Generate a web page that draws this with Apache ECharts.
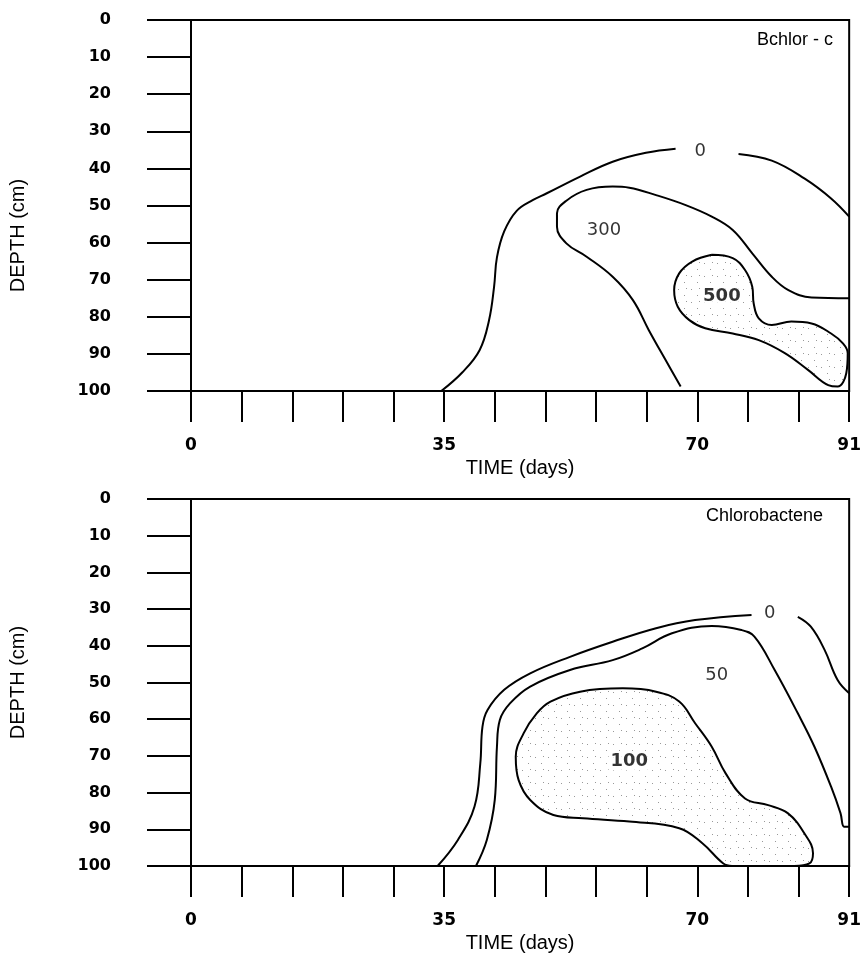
<!DOCTYPE html>
<html>
<head>
<meta charset="utf-8">
<script src="https://cdn.jsdelivr.net/npm/echarts@6/dist/echarts.min.js"></script>
<style>
html,body{margin:0;padding:0;background:#fff;}
#chart{width:864px;height:958px;}
</style>
</head>
<body>
<div id="chart"></div>
<script>
// ---- data (time in days, depth in cm) ----
const timeLabels = [0, 35, 70, 91];
const panelTitles = ['Bchlor - c', 'Chlorobactene'];

// Bchlor-c contours
const bchlorZeroA = [[34.6,100],[37.5,95],[39.9,89],[41.2,81],[41.9,72],[42.3,64],[43.3,57],[45.0,51.5],[47.3,48.5],[49.2,46.7],[53.8,42.2],[58.3,38.2],[62.9,35.8],[67.0,34.7]];
const bchlorZeroB = [[75.7,36.1],[80.3,37.9],[84.8,42.7],[88.5,48.1],[91,53]];
const bchlor300 = [[91,75.0],[85.8,74.8],[82.6,72.8],[80.3,69.2],[77.6,62.9],[74.9,56.6],[72.0,53.0],[68.4,49.9],[64.3,47.2],[60.6,45.2],[58.3,44.9],[54.7,45.8],[51.9,48.7],[50.6,52.1],[50.6,55.7],[51.9,60.2],[54.7,63.8],[58.3,69.2],[61.1,75.5],[63.3,83.6],[65.6,91.6],[67.7,98.8]];
const bchlor500 = [[72.0,63.3],[74.9,64.2],[76.6,67.4],[77.6,71.9],[77.8,76.4],[78.5,80.4],[80.3,82.2],[83.0,81.3],[85.8,81.8],[88.5,84.5],[90.1,87.1],[90.8,89.8],[90.6,95.2],[89.4,98.8],[88.1,98.4],[85.3,94.3],[82.1,89.8],[78.5,86.3],[74.9,84.5],[71.1,83.1],[68.9,80.9],[67.3,77.3],[66.8,72.8],[67.5,68.3],[69.3,65.1],[72.0,63.3]];
const bchlorLabels = [['0',70.4,35.5,'normal'],['300',57.1,56.6,'normal'],['500',73.4,74.6,'bold']];

// Chlorobactene contours
const chloroZeroA = [[34.1,100],[36.9,92.9],[39.2,83.8],[40.0,72.0],[40.3,62.0],[41.0,57.5],[43.3,52.0],[46.9,47.5],[52.4,43.0],[58.3,38.9],[64.3,35.2],[69.7,33.0],[77.5,31.6]];
const chloroZeroB = [[83.9,32.1],[85.7,34.8],[87.6,41.1],[89.4,49.3],[91,52.9]];
const chloro50 = [[39.4,100],[40.9,92.9],[42.0,82.0],[42.3,67.5],[42.7,60.2],[44.1,55.7],[46.9,51.1],[52.4,46.6],[58.3,43.9],[62.4,40.7],[66.5,36.6],[72.0,34.6],[76.1,35.7],[77.9,37.5],[80.7,46.6],[83.9,58.4],[86.2,67.5],[88.5,78.4],[89.8,85.6],[90.3,89.3],[91,89.3]];
const chloro100 = [[83.4,100],[85.5,99.3],[86.0,96.5],[84.8,91.1],[82.5,85.6],[79.8,83.4],[76.6,81.6],[73.9,74.7],[72.0,67.5],[69.7,61.1],[67.5,55.2],[64.3,52.5],[59.7,51.6],[53.8,52.5],[49.7,55.2],[47.8,58.4],[46.0,63.8],[44.9,70.2],[45.3,76.6],[46.9,82.0],[50.1,86.1],[54.2,87.0],[60.6,87.9],[67.5,89.7],[70.7,93.8],[73.6,99.3],[74.8,100]];
const chloroLabels = [['0',80.0,31.2,'normal'],['50',72.7,48.0,'normal'],['100',60.6,71.5,'bold']];

// ---- stipple pattern ----
const pc = document.createElement('canvas');
pc.width = 13; pc.height = 13;
const pctx = pc.getContext('2d');
pctx.fillStyle = '#999';
[[2,3],[8,9],[10,2]].forEach(p => pctx.fillRect(p[0], p[1], 1, 1));
const stipple = {image: pc, repeat: 'repeat'};

const FONT = 'Liberation Sans, Arial, Helvetica, sans-serif';
const NUMFONT = 'DejaVu Sans, Verdana, sans-serif';

function xAxis(gi) {
  return {
    type: 'value', gridIndex: gi, min: 0, max: 91, interval: 7, position: 'bottom',
    name: 'TIME (days)', nameLocation: 'middle', nameGap: 67,
    nameTextStyle: {color: '#000', fontFamily: FONT, fontSize: 20},
    axisLine: {show: true, onZero: false, lineStyle: {color: '#000', width: 2}},
    axisTick: {show: true, inside: false, length: 31, lineStyle: {color: '#000', width: 2}},
    axisLabel: {
      color: '#000', fontFamily: NUMFONT, fontSize: 17, fontWeight: 'bold', margin: 46,
      formatter: v => timeLabels.indexOf(v) >= 0 ? String(v) : ''
    },
    splitLine: {show: false}
  };
}
function yAxis(gi, shift) {
  return {
    type: 'value', gridIndex: gi, min: 0, max: 100, interval: 10, inverse: true, position: 'left',
    name: 'DEPTH (cm)', nameLocation: 'middle', nameGap: 163, nameRotate: 90,
    nameTextStyle: {color: '#000', fontFamily: FONT, fontSize: 20, padding: shift},
    axisLine: {show: true, onZero: false, lineStyle: {color: '#000', width: 2}},
    axisTick: {show: true, inside: false, length: 44, lineStyle: {color: '#000', width: 2}},
    axisLabel: {color: '#000', fontFamily: NUMFONT, fontSize: 16, fontWeight: 'bold', margin: 80, padding: [0,0,6,0]},
    splitLine: {show: false}
  };
}
function contour(gi, data) {
  return {
    type: 'line', xAxisIndex: gi, yAxisIndex: gi, data: data, smooth: 0.4,
    symbol: 'none', silent: true, z: 3,
    lineStyle: {color: '#000', width: 2}
  };
}
function fill(gi, data) {
  return {
    type: 'custom', xAxisIndex: gi, yAxisIndex: gi, data: [[0, 0]], silent: true, z: 1, clip: true,
    renderItem: (params, api) => ({
      type: 'polygon',
      shape: {points: data.map(p => api.coord(p)), smooth: 0.4},
      style: {fill: stipple, stroke: null}
    })
  };
}
function labels(gi, list) {
  return {
    type: 'scatter', xAxisIndex: gi, yAxisIndex: gi, symbolSize: 1, silent: true, z: 4,
    itemStyle: {color: 'rgba(0,0,0,0)'},
    data: list.map(l => ({name: l[0], value: [l[1], l[2]],
      label: {fontWeight: l[3]}})),
    label: {show: true, position: 'inside', formatter: p => p.name, color: '#000',
            fontFamily: NUMFONT, fontSize: 18, backgroundColor: '#fff', padding: [0, 2]}
  };
}

const chart = echarts.init(document.getElementById('chart'), null, {renderer: 'canvas'});
chart.setOption({
  animation: false,
  backgroundColor: '#fff',
  title: [
    {text: panelTitles[0], right: 31, top: 31, padding: 0,
     textStyle: {color: '#000', fontFamily: FONT, fontSize: 18, fontWeight: 'normal'}},
    {text: panelTitles[1], right: 41, top: 507, padding: 0,
     textStyle: {color: '#000', fontFamily: FONT, fontSize: 18, fontWeight: 'normal'}}
  ],
  grid: [
    {left: 191, top: 20, width: 664, height: 371, show: true, borderColor: '#000', borderWidth: 2, backgroundColor: 'transparent'},
    {left: 191, top: 499, width: 664, height: 367, show: true, borderColor: '#000', borderWidth: 2, backgroundColor: 'transparent'}
  ],
  xAxis: [xAxis(0), xAxis(1)],
  yAxis: [yAxis(0, [0, 60, 0, 0]), yAxis(1, 0)],
  series: [
    fill(0, bchlor500),
    contour(0, bchlorZeroA), contour(0, bchlorZeroB), contour(0, bchlor300), contour(0, bchlor500),
    labels(0, bchlorLabels),
    fill(1, chloro100),
    contour(1, chloroZeroA), contour(1, chloroZeroB), contour(1, chloro50), contour(1, chloro100),
    labels(1, chloroLabels)
  ]
});
</script>
</body>
</html>
